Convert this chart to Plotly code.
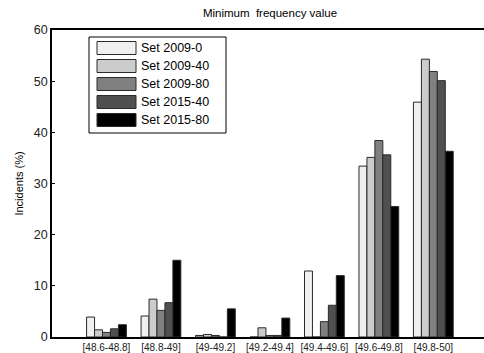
import plotly.graph_objects as go

categories = ["[48.6-48.8]", "[48.8-49]", "[49-49.2]", "[49.2-49.4]", "[49.4-49.6]", "[49.6-49.8]", "[49.8-50]"]
series_names = ["Set 2009-0", "Set 2009-40", "Set 2009-80", "Set 2015-40", "Set 2015-80"]
set_2009_0 = [3.9, 4.1, 0.3, 0.0, 12.9, 33.4, 45.9]
set_2009_40 = [1.4, 7.4, 0.5, 1.8, 0.0, 35.1, 54.3]
set_2009_80 = [0.9, 5.2, 0.3, 0.3, 3.0, 38.4, 51.9]
set_2015_40 = [1.6, 6.7, 0.0, 0.3, 6.2, 35.6, 50.1]
set_2015_80 = [2.4, 15.0, 5.5, 3.7, 12.0, 25.5, 36.3]
y_ticks = [0, 10, 20, 30, 40, 50, 60]

series_values = [set_2009_0, set_2009_40, set_2009_80, set_2015_40, set_2015_80]
colors = ["#f0f0f0", "#cccccc", "#808080", "#505050", "#000000"]

FONT = "Liberation Sans, Arial, sans-serif"

fig = go.Figure()
xs = list(range(len(categories)))
for name, vals, col in zip(series_names, series_values, colors):
    fig.add_trace(go.Bar(
        x=xs, y=vals, name=name,
        marker=dict(color=col, line=dict(color="#2a2a2a", width=1)),
        showlegend=False,
    ))

# Manual legend (box, swatches, labels) in paper coordinates
W, H = 484, 353
ml, mr, mt, mb = 52, 0, 30, 16
pw, ph = W - ml - mr, H - mt - mb

def px(x):
    return (x - ml) / pw

def py(y):
    return 1 - (y - mt) / ph

fig.add_shape(type="rect", xref="paper", yref="paper",
              x0=px(89), x1=px(226), y0=py(133), y1=py(37),
              line=dict(color="black", width=1), fillcolor="white", layer="above")
row0, step = 48, 18
for i, (name, col) in enumerate(zip(series_names, colors)):
    yc = row0 + i * step
    fig.add_shape(type="rect", xref="paper", yref="paper",
                  x0=px(97), x1=px(136), y0=py(yc + 6.5), y1=py(yc - 6.5),
                  line=dict(color="#2a2a2a", width=1), fillcolor=col, layer="above")
    fig.add_annotation(xref="paper", yref="paper", x=px(139), y=py(yc),
                       text=name, showarrow=False, xanchor="left", yanchor="middle",
                       font=dict(family=FONT, size=12.5, color="black"))

fig.update_layout(
    width=W, height=H,
    margin=dict(l=ml, r=mr, t=mt, b=mb, autoexpand=False),
    paper_bgcolor="white", plot_bgcolor="white",
    barmode="group", bargap=0.27, bargroupgap=0,
    font=dict(family=FONT, color="black"),
    title=dict(text="Minimum  frequency value", x=px(270), xref="paper", xanchor="center",
               y=1 - 13 / H, yanchor="middle", font=dict(size=11.5, family=FONT)),
    showlegend=False,
)
fig.update_xaxes(
    range=[-1, 6.93], tickmode="array", tickvals=xs, ticktext=categories,
    showline=True, linecolor="black", linewidth=1.5, mirror=True,
    ticks="", showgrid=False, zeroline=False, tickangle=0,
    tickfont=dict(size=10, family=FONT, color="#222"), automargin=False,
)
fig.update_yaxes(
    range=[0, 60], tickmode="array", tickvals=y_ticks,
    showline=True, linecolor="black", linewidth=1.5,
    ticks="inside", ticklen=3, tickcolor="black",
    showgrid=False, zeroline=False,
    tickfont=dict(size=12.5, family=FONT, color="#222"), automargin=False,
    title=dict(text="Incidents (%)", font=dict(size=11, family=FONT), standoff=8),
)

fig.write_html(
    "out.html",
    config={"displayModeBar": False},
    post_script="document.body.style.margin='0';document.body.style.padding='0';",
)
